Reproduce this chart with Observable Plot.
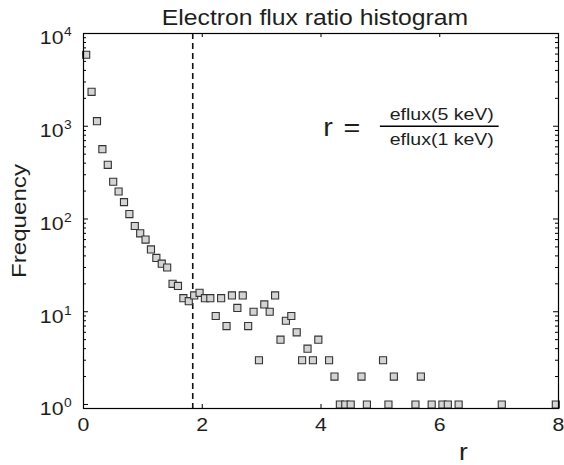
<!DOCTYPE html>
<html>
<head>
<meta charset="utf-8">
<script src="https://cdn.jsdelivr.net/npm/d3@7"></script>
<script src="https://cdn.jsdelivr.net/npm/@observablehq/plot@0.6"></script>
<style>
  body { margin: 0; background: #fff; }
  svg { display: block; }
</style>
</head>
<body>
<div id="chart"></div>
<script>
// ---- Data ----
const titleText = "Electron flux ratio histogram";
const xLabel = "r";
const yLabel = "Frequency";

const binCenters = [
  0.045, 0.136, 0.227, 0.318, 0.409, 0.500, 0.591, 0.682, 0.773, 0.864,
  0.955, 1.045, 1.136, 1.227, 1.318, 1.409, 1.500, 1.591, 1.682, 1.773,
  1.864, 1.955, 2.045, 2.136, 2.227, 2.318, 2.409, 2.500, 2.591, 2.682,
  2.773, 2.864, 2.955, 3.045, 3.136, 3.227, 3.318, 3.409, 3.500, 3.591,
  3.682, 3.773, 3.864, 3.955, 4.136, 4.227, 4.318, 4.409, 4.500, 4.682,
  4.773, 5.045, 5.136, 5.227, 5.591, 5.682, 5.864, 6.045, 6.136, 6.318,
  7.045, 7.955
];
const counts = [
  5900, 2350, 1135, 566, 384, 252, 198, 152, 113, 84,
  70, 60, 47, 38, 33, 30, 20, 19, 14, 13,
  15, 16, 14, 14, 9, 14, 7, 15, 11, 15,
  7, 10, 3, 12, 10, 15, 5, 8, 9, 6,
  3, 4, 3, 5, 3, 2, 1, 1, 1, 2,
  1, 3, 1, 2, 1, 2, 1, 1, 1, 1,
  1, 1
];

const xTicks = [0, 2, 4, 6, 8];
const yDecades = [1, 10, 100, 1000, 10000];
const yMinorTicks = [
  2, 3, 4, 5, 6, 7, 8, 9,
  20, 30, 40, 50, 60, 70, 80, 90,
  200, 300, 400, 500, 600, 700, 800, 900,
  2000, 3000, 4000, 5000, 6000, 7000, 8000, 9000
];

const cutoffR = [1.84];

const fracNumerator = "eflux(5 keV)";
const fracDenominator = "eflux(1 keV)";
const fracBarY = 1000;
const fracBarX = [5, 7];
const eqSymbols = ["r", "="];
const eqSymbolX = [4.12, 4.52];

// ---- Layout ----
const W = 564, H = 465;
const mL = 83, mR = 6, mT = 33, mB = 57;
const fw = W - mL - mR, fh = H - mT - mB;
const textStretch = 1.15;
const ink = "#1e1e1e";

const data = binCenters.map((r, i) => ({r, n: counts[i]}));
const fracMid = (fracBarX[0] + fracBarX[1]) / 2;

const chart = Plot.plot({
  width: W,
  height: H,
  marginLeft: mL,
  marginRight: mR,
  marginTop: mT,
  marginBottom: mB,
  style: {fontFamily: "'Liberation Sans', Arial, Helvetica, sans-serif", background: "#fff", color: "#000"},
  x: {domain: [0, 8], axis: null},
  y: {type: "log", domain: [0.905, 10000], axis: null},
  marks: [
    // inward ticks on all four sides
    Plot.tickX(xTicks, {x: d => d, insetTop: fh - 4, stroke: "#000"}),
    Plot.tickX(xTicks, {x: d => d, insetBottom: fh - 4, stroke: "#000"}),
    Plot.tickY(yDecades, {y: d => d, insetRight: fw - 5, stroke: "#000"}),
    Plot.tickY(yDecades, {y: d => d, insetLeft: fw - 5, stroke: "#000"}),
    Plot.tickY(yMinorTicks, {y: d => d, insetRight: fw - 3, stroke: "#000"}),
    Plot.tickY(yMinorTicks, {y: d => d, insetLeft: fw - 3, stroke: "#000"}),
    // dashed threshold
    Plot.ruleX(cutoffR, {x: d => d, stroke: "#111", strokeWidth: 1.6, strokeDasharray: "6,4"}),
    // histogram markers
    Plot.dot(data, {x: "r", y: "n", symbol: "square", r: 4, fill: "#d4d4d4", stroke: "#333", strokeWidth: 1.1}),
    Plot.frame({stroke: "#000", strokeWidth: 1.2}),
    // tick labels
    Plot.text(xTicks, {x: d => d, text: d => String(d), frameAnchor: "bottom", dy: 22, fontSize: 18.5, fill: ink}),
    Plot.text(yDecades, {y: d => d, text: () => "10", frameAnchor: "left", textAnchor: "end", dx: -20, dy: 5, fontSize: 18.5, fill: ink}),
    Plot.text(yDecades, {y: d => d, text: d => String(Math.round(Math.log10(d))), frameAnchor: "left", textAnchor: "start", dx: -19.5, dy: -1, fontSize: 12, fill: ink}),
    // axis labels & title
    Plot.text([yLabel], {text: d => d, frameAnchor: "left", textAnchor: "middle", rotate: -90, lineAnchor: "bottom", dx: -58, fontSize: 21, fill: ink}),
    Plot.text([xLabel], {text: d => d, frameAnchor: "bottom-right", textAnchor: "middle", lineAnchor: "bottom", dx: -95, dy: 51, fontSize: 23, fill: ink}),
    Plot.text([titleText], {text: d => d, frameAnchor: "top", lineAnchor: "bottom", dx: -6, dy: -9, fontSize: 21.5, fill: ink}),
    // annotation: r = eflux(5 keV) / eflux(1 keV)
    Plot.ruleY([fracBarY], {y: d => d, x1: fracBarX[0], x2: fracBarX[1], stroke: "#000", strokeWidth: 1.3}),
    Plot.text([fracNumerator], {x: () => fracMid, y: () => fracBarY, text: d => d, lineAnchor: "bottom", dx: 2, dy: -6.5, fontSize: 17, fill: ink}),
    Plot.text([fracDenominator], {x: () => fracMid, y: () => fracBarY, text: d => d, lineAnchor: "bottom", dx: 2, dy: 19, fontSize: 17, fill: ink}),
    Plot.text(eqSymbols, {x: (d, i) => eqSymbolX[i], y: () => fracBarY, text: d => d, lineAnchor: "bottom", dy: 9.5, fontSize: 25, fill: ink})
  ]
});

// the reference's lettering is wider than Arial/Helvetica: stretch glyphs horizontally
chart.querySelectorAll("text").forEach(t => {
  const tr = t.getAttribute("transform");
  if (tr) {
    t.setAttribute("transform", tr + ` scale(${textStretch},1)`);
  } else {
    const x = +(t.getAttribute("x") || 0), y = +(t.getAttribute("y") || 0);
    t.setAttribute("transform", `translate(${x},${y}) scale(${textStretch},1) translate(${-x},${-y})`);
  }
});

document.getElementById("chart").appendChild(chart);
</script>
</body>
</html>
